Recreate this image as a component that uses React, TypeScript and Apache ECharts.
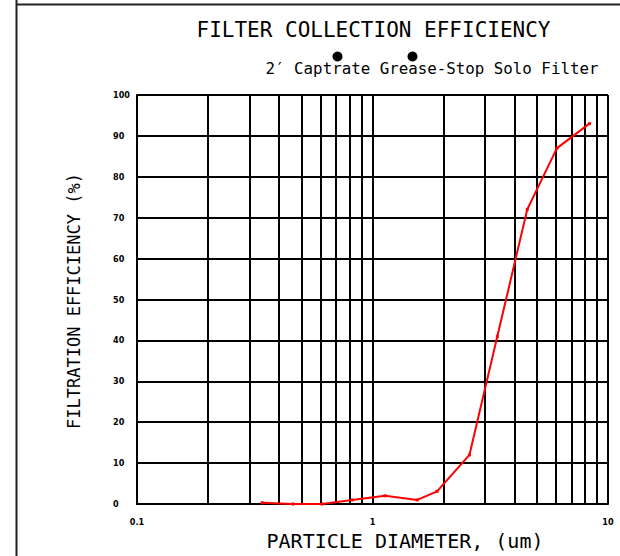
import React, { useEffect, useRef } from "react";
import * as echarts from "echarts";

// Particle diameter (um) and filtration efficiency (%)
const particleDiameter = [0.34, 0.46, 0.61, 0.82, 1.13, 1.55, 1.88, 2.58, 3.39, 4.54, 6.07, 8.34];
const efficiency = [0.3, 0, 0, 1.0, 2.0, 1.0, 3.1, 12, 41, 72, 87, 93];
// minor log grid lines
const minorGridX = [0.2, 0.3, 0.4, 0.5, 0.6, 0.7, 0.8, 0.9, 2, 3, 4, 5, 6, 7, 8, 9];

const titleText = "FILTER COLLECTION EFFICIENCY";
const subtitleText = "2\u2032 Captrate Grease-Stop Solo Filter";
const xName = "PARTICLE DIAMETER, (um)";
const yName = "FILTRATION EFFICIENCY (%)";

const MONO = '"DejaVu Sans Mono", "Liberation Mono", monospace';
const TICKFONT = '"DejaVu Sans Condensed", "Liberation Sans", Arial, sans-serif';

export default function App() {
  const ref = useRef<HTMLDivElement>(null);
  useEffect(() => {
    document.body.style.margin = "0";
    const chart = echarts.init(ref.current!, null, { renderer: "svg" });
    chart.setOption({
      animation: false,
      backgroundColor: "#ffffff",
      grid: { left: 137, right: 12, top: 95, bottom: 52 },
      xAxis: {
        type: "log",
        logBase: 10,
        min: 0.1,
        max: 10,
        axisLine: { show: true, lineStyle: { color: "#000", width: 2 } },
        axisTick: { show: false },
        splitLine: { show: true, lineStyle: { color: "#000", width: 2 } },
        axisLabel: {
          margin: 13,
          fontSize: 9,
          fontWeight: "bold",
          color: "#000",
          fontFamily: TICKFONT,
          formatter: (v: number) => String(v),
        },
      },
      yAxis: {
        type: "value",
        min: 0,
        max: 100,
        interval: 10,
        axisLine: { show: true, lineStyle: { color: "#000", width: 2 } },
        axisTick: { show: false },
        splitLine: { show: true, lineStyle: { color: "#000", width: 2 } },
        axisLabel: {
          align: "left",
          margin: 24,
          fontSize: 9,
          fontWeight: "bold",
          color: "#000",
          fontFamily: TICKFONT,
        },
      },
      series: [
        {
          type: "line",
          data: [],
          z: 1,
          silent: true,
          markLine: {
            silent: true,
            symbol: "none",
            label: { show: false },
            lineStyle: { color: "#000", width: 2, type: "solid" },
            data: minorGridX.map((v) => ({ xAxis: v })),
          },
        },
        {
          type: "line",
          z: 5,
          data: particleDiameter.map((x, i) => [x, efficiency[i]]),
          symbol: "rect",
          symbolSize: 3,
          lineStyle: { color: "#ff0000", width: 2 },
          itemStyle: { color: "#ff0000" },
        },
      ],
      graphic: [
        { type: "line", shape: { x1: 16.5, y1: 0, x2: 16.5, y2: 556 }, style: { stroke: "#222", lineWidth: 2 } },
        { type: "line", shape: { x1: 16, y1: 4.5, x2: 620, y2: 4.5 }, style: { stroke: "#222", lineWidth: 2 } },
        {
          type: "text",
          x: 373.5,
          y: 30,
          style: {
            text: titleText,
            font: `21px ${MONO}`,
            fill: "#000",
            textAlign: "center",
            textVerticalAlign: "middle",
            verticalAlign: "middle",
          },
        },
        {
          type: "text",
          x: 432,
          y: 68,
          style: {
            text: subtitleText,
            font: `15.8px ${MONO}`,
            fill: "#000",
            textAlign: "center",
            textVerticalAlign: "middle",
            verticalAlign: "middle",
          },
        },
        { type: "circle", shape: { cx: 337.5, cy: 56.5, r: 5 }, style: { fill: "#000" } },
        { type: "circle", shape: { cx: 412.5, cy: 56.5, r: 5 }, style: { fill: "#000" } },
        {
          type: "text",
          x: 405,
          y: 541,
          style: {
            text: xName,
            font: `20px ${MONO}`,
            fill: "#000",
            textAlign: "center",
            textVerticalAlign: "middle",
            verticalAlign: "middle",
          },
        },
        {
          type: "text",
          x: 74,
          y: 301,
          rotation: Math.PI / 2,
          style: {
            text: yName,
            font: `17px ${MONO}`,
            fill: "#000",
            textAlign: "center",
            textVerticalAlign: "middle",
            verticalAlign: "middle",
          },
        },
      ],
    });
    return () => chart.dispose();
  }, []);
  return <div ref={ref} style={{ width: 620, height: 556 }} />;
}
